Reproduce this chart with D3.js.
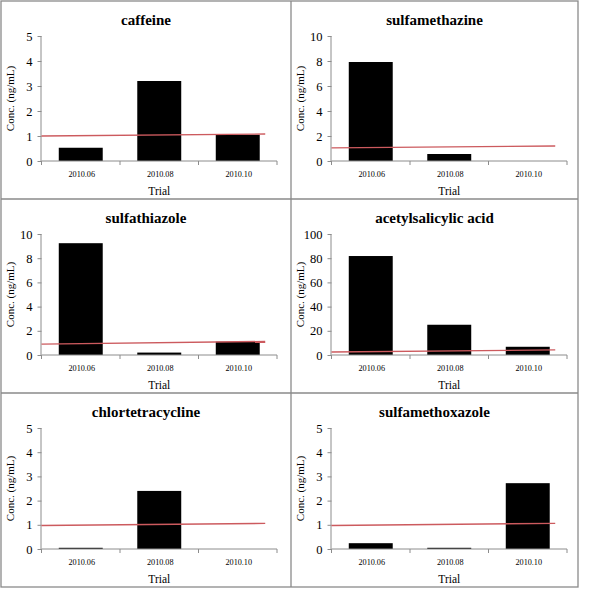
<!DOCTYPE html>
<html>
<head>
<meta charset="utf-8">
<script src="https://cdn.jsdelivr.net/npm/d3@7"></script>
<style>
  html, body { margin: 0; padding: 0; background: #fff; }
  svg { display: block; }
  text { font-family: "Liberation Serif", "Times New Roman", serif; }
</style>
</head>
<body>
<svg id="chart" width="604" height="589"></svg>
<script>
// ---- data ----
const trials = ["2010.06", "2010.08", "2010.10"];
const compounds = ["caffeine", "sulfamethazine", "sulfathiazole", "acetylsalicylic acid", "chlortetracycline", "sulfamethoxazole"];
const caffeine = [0.53, 3.2, 1.05];
const sulfamethazine = [7.92, 0.56, 0];
const sulfathiazole = [9.24, 0.2, 1.1];
const acetylsalicylicAcid = [81.8, 25, 6.8];
const chlortetracycline = [0.05, 2.4, 0];
const sulfamethoxazole = [0.24, 0.05, 2.72];
const yMax = [5, 10, 10, 100, 5, 5];
const yStep = [1, 2, 2, 20, 1, 1];
const refStart = [1.0, 1.05, 0.9, 2.5, 0.97, 0.97];
const refEnd = [1.08, 1.2, 1.12, 4.2, 1.06, 1.06];
const refSpan = [-0.5, 2.35]; // in category-index units
const seriesList = [caffeine, sulfamethazine, sulfathiazole, acetylsalicylicAcid, chlortetracycline, sulfamethoxazole];
const yLabel = "Conc. (ng/mL)";
const xLabel = "Trial";

// ---- layout ----
const svg = d3.select("#chart");
const colX = [1, 291, 578];
const rowY = [1, 199, 393, 587];
const gridColor = "#8a8a8a";
const axisColor = "#8c8c8c";

// grid borders
svg.append("rect").attr("x", colX[0]).attr("y", rowY[0])
  .attr("width", colX[2] - colX[0]).attr("height", rowY[3] - rowY[0])
  .attr("fill", "none").attr("stroke", gridColor).attr("stroke-width", 1.3);
svg.append("line").attr("x1", colX[1]).attr("x2", colX[1]).attr("y1", rowY[0]).attr("y2", rowY[3])
  .attr("stroke", gridColor).attr("stroke-width", 1.3);
[rowY[1], rowY[2]].forEach(y => {
  svg.append("line").attr("x1", colX[0]).attr("x2", colX[2]).attr("y1", y).attr("y2", y)
    .attr("stroke", gridColor).attr("stroke-width", 1.3);
});

compounds.forEach((name, i) => {
  const c = i % 2, r = Math.floor(i / 2);
  const cx0 = colX[c], cx1 = colX[c + 1];
  const cy0 = rowY[r], cy1 = rowY[r + 1];
  const left = cx0 + 40.5, right = cx0 + 276;
  const top = cy0 + 35, bottom = cy1 - 38;
  const g = svg.append("g");

  const x = d3.scaleBand().domain(trials).range([left, right]).paddingInner(0.44).paddingOuter(0.22);
  const xi = d3.scaleLinear().domain([-0.5, trials.length - 0.5]).range([left, right]);
  const y = d3.scaleLinear().domain([0, yMax[i]]).range([bottom, top]);

  // bars
  g.selectAll("rect.bar").data(seriesList[i]).enter().append("rect")
    .attr("class", "bar")
    .attr("x", (d, k) => x(trials[k]))
    .attr("width", x.bandwidth())
    .attr("y", d => y(d))
    .attr("height", d => bottom - y(d))
    .attr("fill", "#000");

  // y axis
  const yAxis = d3.axisLeft(y).tickValues(d3.range(0, yMax[i] + 1e-9, yStep[i]))
    .tickSize(4).tickPadding(5).tickFormat(d3.format("d"));
  const ya = g.append("g").attr("transform", `translate(${left},0)`).call(yAxis);
  ya.select(".domain").attr("stroke", axisColor).attr("d", `M-0.5,${top}V${bottom}`);
  ya.selectAll(".tick line").attr("stroke", axisColor);
  ya.selectAll(".tick text").attr("font-size", 12.5).attr("fill", "#000")
    .attr("font-family", "Liberation Serif");

  // x axis
  const xa = g.append("g").attr("transform", `translate(0,${bottom})`);
  xa.append("line").attr("x1", left).attr("x2", right).attr("y1", 0).attr("y2", 0)
    .attr("stroke", axisColor);
  xa.selectAll("line.tk").data(d3.range(0, trials.length + 1)).enter().append("line")
    .attr("class", "tk")
    .attr("x1", k => xi(k - 0.5)).attr("x2", k => xi(k - 0.5))
    .attr("y1", 0).attr("y2", 4).attr("stroke", axisColor);
  xa.selectAll("text").data(trials).enter().append("text")
    .attr("x", d => x(d) + x.bandwidth() / 2 + 1)
    .attr("y", 16)
    .attr("text-anchor", "middle")
    .attr("font-size", 8.2)
    .attr("fill", "#000")
    .text(d => d);

  // reference line
  const line = d3.line().x(d => xi(d[0])).y(d => y(d[1]));
  g.append("path")
    .datum([[refSpan[0], refStart[i]], [refSpan[1], refEnd[i]]])
    .attr("d", line)
    .attr("fill", "none")
    .attr("stroke", "#cc5a5e")
    .attr("stroke-width", 1.4);

  // title
  g.append("text")
    .attr("x", (cx0 + cx1) / 2)
    .attr("y", cy0 + 24)
    .attr("text-anchor", "middle")
    .attr("font-size", 15)
    .attr("font-weight", "bold")
    .attr("fill", "#000")
    .text(name);

  // axis titles
  g.append("text")
    .attr("x", (left + right) / 2)
    .attr("y", cy1 - 4.5)
    .attr("text-anchor", "middle")
    .attr("font-size", 11.5)
    .attr("fill", "#000")
    .text(xLabel);
  g.append("text")
    .attr("transform", `translate(${cx0 + 13},${(top + bottom) / 2}) rotate(-90)`)
    .attr("text-anchor", "middle")
    .attr("font-size", 11)
    .attr("fill", "#000")
    .text(yLabel);
});
</script>
</body>
</html>
